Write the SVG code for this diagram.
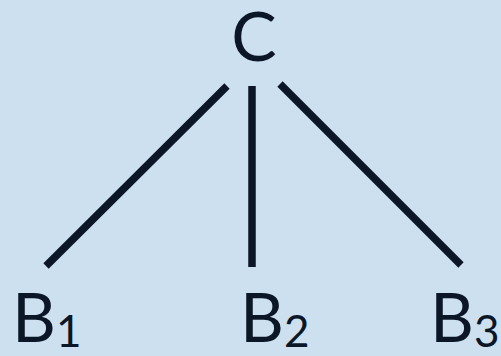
<svg xmlns="http://www.w3.org/2000/svg" width="501" height="356" viewBox="0 0 501 356">
<style>
.bg{fill:#cde0f0}
.t{font-family:Lato,"Noto Sans","DejaVu Sans",sans-serif;fill:#0b1626;font-size:68px}
.s{font-size:44px}
.e{stroke:#0b1626;stroke-width:7.5;stroke-linecap:butt;fill:none}
</style>
<rect class="bg" width="501" height="356"/>
<g id="connectors">
<line class="e" x1="227" y1="86" x2="46" y2="266"/>
<line class="e" x1="252" y1="86" x2="252" y2="267"/>
<line class="e" x1="280" y1="84" x2="461" y2="265"/>
</g>
<g id="C"><text class="t" x="254" y="61" text-anchor="middle" font-size="70">C</text></g>
<g id="B1"><text class="t" x="12" y="342">B<tspan class="s" dy="5">1</tspan></text></g>
<g id="B2"><text class="t" x="240" y="342">B<tspan class="s" dy="5">2</tspan></text></g>
<g id="B3"><text class="t" x="430" y="342">B<tspan class="s" dy="5">3</tspan></text></g>
</svg>
